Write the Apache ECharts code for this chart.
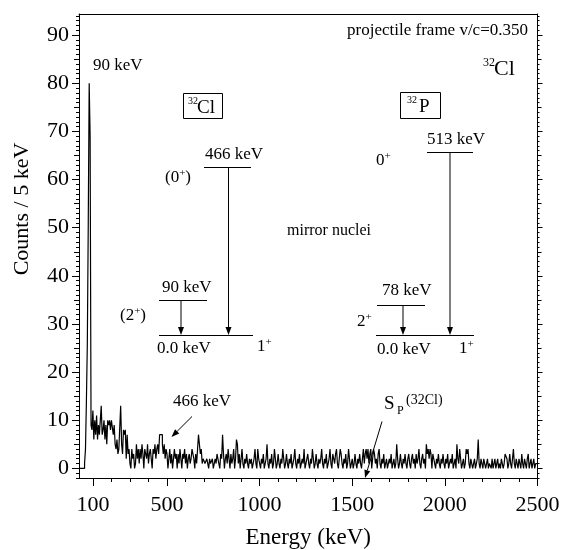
<!DOCTYPE html>
<html><head><meta charset="utf-8">
<script src="https://cdn.jsdelivr.net/npm/echarts@6/dist/echarts.min.js"></script>
<style>html,body{margin:0;padding:0;background:#fff}#c{width:561px;height:550px}</style>
</head><body><div id="c"></div>
<script>
// 5 keV bins, first bin starts at 25 keV
const binStart = 25, binWidth = 5;
// 25 - 90 keV
const countsPeak = [0,0,0,0,0,0,1,4,14,26,51,80,69,9];
// 95 - 495 keV
const countsLow = [
 8,12,6,10,7,11,6,9,7,10, 13,7,8,10,6,9,5,10,9,10, 8,10,10,7,9,5,4,6,3,4, 4,13,5,3,8,7,8,2,7,3, 4,
 1,0,4,2,3,0,1,5,2,4, 1,4,2,5,3,0,4,4,2,5, 1,3,4,2,0,4,3,5,2,4, 5,3,7,7,7,5,3,5,2,4
];
// 500 - 1495 keV
const countsMid = [
 3,0,2,4,1,3,0,2,4,2, 3,0,3,1,4,2,0,3,2,4, 1,3,0,2,3,1,2,4,4,2, 0,3,1,4,7,5,3,4,1,2,
 2,1,1,2,1,0,2,1,1,2, 0,1,2,1,3,2,1,0,3,2, 7,3,0,2,3,1,4,2,0,3, 1,2,4,0,2,6,5,1,3,0,
 2,4,1,0,2,1,3,1,0,2, 1,2,0,1,2,4,1,0,4,2, 1,0,2,1,3,0,1,2,5,1, 0,2,1,3,0,1,4,2,0,1,
 3,1,0,2,1,4,2,0,1,3, 1,0,2,1,3,0,1,2,4,1, 0,2,1,3,0,1,2,1,4,0, 1,2,3,1,0,2,1,4,2,0,
 1,3,1,0,2,1,2,4,1,0, 2,1,3,0,1,2,4,1,0,3, 2,1,3,4,1,0,2,4,3,1, 0,2,1,3,0,1,4,2,0,1
];
// 1500 - 2495 keV
const countsHigh = [
 2,0,1,3,1,0,2,1,3,1, 0,2,4,1,3,4,2,4,1,3, 4,0,2,4,3,1,2,0,3,4, 1,0,2,1,3,0,1,2,0,1,
 2,1,3,0,1,2,0,1,5,2, 0,1,3,1,0,2,1,3,1,0, 2,3,1,0,2,3,1,2,0,3, 1,2,4,1,0,2,3,1,2,0,
 5,3,4,2,4,3,0,3,2,1, 0,2,1,3,1,0,2,1,3,1, 0,2,1,3,0,1,2,1,3,0, 1,2,0,5,2,1,4,2,0,1,
 2,0,1,4,3,4,1,0,2,1, 0,1,2,0,1,2,6,1,0,2, 1,0,2,1,0,1,2,0,1,1, 0,2,0,1,2,0,1,2,0,1,
 0,2,1,0,1,3,3,2,0,1, 3,1,0,2,4,1,0,2,1,0, 2,1,0,3,1,0,2,1,0,2, 3,0,1,2,0,1,2,0,1,1
];
const xTickLabels = [100, 500, 1000, 1500, 2000, 2500];
const yTickLabels = [0, 10, 20, 30, 40, 50, 60, 70, 80, 90];
const xMin = 25, xMax = 2500, yMin = -2, yMax = 94.4;

const counts = countsPeak.concat(countsLow, countsMid, countsHigh);
const histData = counts.map((c, i) => [binStart + i * binWidth, c]);
histData.push([binStart + counts.length * binWidth, counts[counts.length - 1]]);

const xMinor = [];
for (let v = 200; v < 2500; v += 100) if (xTickLabels.indexOf(v) < 0) xMinor.push(v);
const yMid = [], yMinor = [];
for (let v = -2; v <= 94; v++) { if (v % 10 === 0) continue; if (v % 5 === 0) yMid.push(v); else yMinor.push(v); }

const FONT = '"Liberation Serif", "Times New Roman", serif';
const K = '#000';
const fmt = v => String(v);

function xAx(pos, ticks, len, labels, showLine, extra) {
  return Object.assign({
    type: 'value', position: pos, min: xMin, max: xMax, gridIndex: 0,
    axisLine: { show: !!showLine, onZero: false, lineStyle: { color: K, width: 1 } },
    splitLine: { show: false },
    axisTick: ticks ? { show: true, customValues: ticks, length: len, inside: false, lineStyle: { color: K, width: 1 } } : { show: false },
    axisLabel: labels ? { show: true, customValues: labels, formatter: fmt, fontFamily: FONT, fontSize: 22, color: K, margin: 16 } : { show: false }
  }, extra || {});
}
function yAx(pos, ticks, len, labels, showLine) {
  return {
    type: 'value', position: pos, min: yMin, max: yMax, gridIndex: 0,
    axisLine: { show: !!showLine, onZero: false, lineStyle: { color: K, width: 1 } },
    splitLine: { show: false },
    axisTick: ticks ? { show: true, customValues: ticks, length: len, inside: false, lineStyle: { color: K, width: 1 } } : { show: false },
    axisLabel: labels ? { show: true, customValues: labels, formatter: fmt, fontFamily: FONT, fontSize: 22, color: K, margin: 10 } : { show: false }
  };
}

const rich = { s: { fontSize: 11, verticalAlign: 'top', fontFamily: FONT } };
function T(x, y, text, size, extra) {
  return {
    type: 'text', x: x, y: y, silent: true,
    style: Object.assign({ text: text, fontFamily: FONT, fontSize: size, fill: K, align: 'left', verticalAlign: 'middle', lineHeight: Math.round(size * 1.2), rich: rich }, extra || {})
  };
}
function L(x1, y1, x2, y2) {
  return { type: 'line', silent: true, shape: { x1: x1, y1: y1, x2: x2, y2: y2 }, style: { stroke: K, lineWidth: 1 } };
}
function arrow(x1, y1, x2, y2, hl, hw) {
  hl = hl || 8; hw = hw || 3;
  const dx = x2 - x1, dy = y2 - y1, d = Math.sqrt(dx * dx + dy * dy);
  const ux = dx / d, uy = dy / d;
  const bx = x2 - ux * hl, by = y2 - uy * hl;
  return [
    L(x1, y1, bx, by),
    { type: 'polygon', silent: true, shape: { points: [[x2, y2], [bx - uy * hw, by + ux * hw], [bx + uy * hw, by - ux * hw]] }, style: { fill: K } }
  ];
}

const graphics = [].concat(
  [
    { type: 'text', x: 22, y: 209, rotation: Math.PI / 2, silent: true,
      style: { text: 'Counts / 5 keV', fontFamily: FONT, fontSize: 22, fill: K, align: 'center', verticalAlign: 'middle' } },
    T(93, 66, '90 keV', 17),
    T(528, 31, 'projectile frame v/c=0.350', 17, { align: 'right' }),
    T(483, 63, '32', 12),
    T(494, 69, 'Cl', 22),
    // boxed labels
    { type: 'rect', silent: true, shape: { x: 183.5, y: 93.5, width: 39, height: 25 }, style: { fill: 'none', stroke: K, lineWidth: 1 } },
    T(188, 101, '32', 10),
    T(197, 108, 'Cl', 19),
    { type: 'rect', silent: true, shape: { x: 400.5, y: 92.5, width: 40, height: 26 }, style: { fill: 'none', stroke: K, lineWidth: 1 } },
    T(407, 100, '32', 10),
    T(419, 107, 'P', 19),
    T(287, 231, 'mirror nuclei', 16),
    // 32Cl scheme
    L(204, 167.5, 251, 167.5),
    T(205, 155, '466 keV', 17),
    T(165, 178, '(0{s|+})', 17),
    L(159, 300.5, 207, 300.5),
    T(162, 288, '90 keV', 17),
    T(120, 316, '(2{s|+})', 17),
    L(159, 335.5, 253, 335.5),
    T(157, 349, '0.0 keV', 17),
    T(257, 347, '1{s|+}', 17),
    // 32P scheme
    T(376, 161, '0{s|+}', 17),
    L(427, 152.5, 473, 152.5),
    T(427, 140, '513 keV', 17),
    L(377, 305.5, 425, 305.5),
    T(382, 291, '78 keV', 17),
    T(357, 322, '2{s|+}', 17),
    L(376, 335.5, 474, 335.5),
    T(377, 350, '0.0 keV', 17),
    T(459, 349, '1{s|+}', 17),
    // other annotations
    T(173, 402, '466 keV', 17),
    T(384, 404, 'S', 19),
    T(397, 411, 'P', 12),
    T(406, 400, '(32Cl)', 14)
  ],
  arrow(228.5, 167.5, 228.5, 335, 8, 3),
  arrow(181, 300.5, 181, 335, 8, 3),
  arrow(450, 152.5, 450, 335, 8, 3),
  arrow(403, 305.5, 403, 335, 8, 3),
  arrow(192, 416.5, 171.5, 437, 8, 3),
  arrow(382, 421.5, 365, 478, 8, 3)
);

const chart = echarts.init(document.getElementById('c'), null, { renderer: 'canvas' });
chart.setOption({
  animation: false,
  backgroundColor: '#fff',
  grid: { left: 79, right: 23.5, top: 14, bottom: 72, containLabel: false, outerBoundsMode: 'none' },
  xAxis: [
    xAx('bottom', xTickLabels, 8, xTickLabels, true, {
      name: 'Energy (keV)', nameLocation: 'middle', nameGap: 48,
      nameTextStyle: { fontFamily: FONT, fontSize: 23, color: K }
    }),
    xAx('bottom', xMinor, 4, null, false),
    xAx('top', null, 0, null, true)
  ],
  yAxis: [
    yAx('left', yTickLabels, 7, yTickLabels, true),
    yAx('left', yMid, 5, null, false),
    yAx('left', yMinor, 3, null, false),
    yAx('right', yTickLabels, 5, null, true),
    yAx('right', yMid, 4, null, false),
    yAx('right', yMinor, 2, null, false)
  ],
  series: [{
    type: 'line', xAxisIndex: 0, yAxisIndex: 0, step: 'end',
    data: histData, showSymbol: false, symbol: 'none',
    lineStyle: { color: K, width: 1.2 }, clip: true, silent: true
  }],
  graphic: graphics
});
</script></body></html>
